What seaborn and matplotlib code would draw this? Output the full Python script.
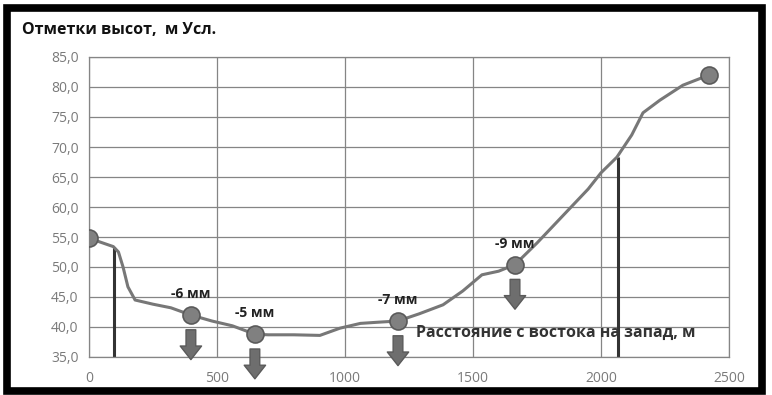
import seaborn as sns
import matplotlib.pyplot as plt
import pandas as pd
from matplotlib.patches import Rectangle

# elevation profile, east to west
dist = [0, 95, 115, 133, 152, 180, 250, 320, 398, 480, 560, 648, 700, 800, 902,
        980, 1060, 1130, 1207, 1290, 1383, 1460, 1535, 1600, 1664, 1750, 1850,
        1950, 2000, 2062, 2120, 2164, 2230, 2320, 2422]
elev = [54.8, 53.4, 52.5, 50.0, 46.7, 44.5, 43.8, 43.2, 42.0, 41.0, 40.2, 38.8,
        38.7, 38.7, 38.6, 39.8, 40.6, 40.8, 41.0, 42.2, 43.7, 46.0, 48.7, 49.3,
        50.4, 54.0, 58.5, 63.0, 65.7, 68.3, 72.0, 75.7, 77.8, 80.3, 82.0]

# measurement points and settlement labels
pt_dist = [0, 398, 648, 1207, 1664, 2422]
pt_elev = [54.8, 42.0, 38.8, 41.0, 50.4, 82.0]
settle_dist = [398, 648, 1207, 1664]
settle_elev = [42.0, 38.8, 41.0, 50.4]
settle_lbl = ["-6 мм", "-5 мм", "-7 мм", "-9 мм"]

# vertical marker lines (x, top elevation)
vline_x = [98, 2065]
vline_top = [53.4, 68.3]

x_ticks = [0, 500, 1000, 1500, 2000, 2500]
y_ticks = [35, 40, 45, 50, 55, 60, 65, 70, 75, 80, 85]

sns.set_style("whitegrid", {"grid.color": "#858585", "axes.edgecolor": "#858585"})
plt.rcParams['font.family'] = ['Open Sans', 'DejaVu Sans']

fig = plt.figure(figsize=(7.72, 3.95), dpi=100)
ax = fig.add_axes([89 / 772, 38 / 395, 640 / 772, 300 / 395])

prof = pd.DataFrame({"dist": dist, "elev": elev})
pts = pd.DataFrame({"dist": pt_dist, "elev": pt_elev})
sns.lineplot(data=prof, x="dist", y="elev", ax=ax, color="#777777", lw=2.2,
             sort=False, zorder=3)
sns.scatterplot(data=pts, x="dist", y="elev", ax=ax, s=150, color="#808080",
                edgecolor="#5a5a5a", linewidth=1.2, zorder=4)

ax.vlines(vline_x, 35, vline_top, color="#333333", lw=2.2, zorder=2)

for x, y, lbl in zip(settle_dist, settle_elev, settle_lbl):
    ax.text(x, y + 3.5, lbl, ha="center", va="center", fontsize=10,
            fontweight="bold", color="#222222")
    ax.annotate("", xy=(x, y - 7.9), xytext=(x, y - 2.0),
                arrowprops=dict(arrowstyle="simple,head_length=0.7,head_width=1.1,tail_width=0.5",
                                fc="#6e6e6e", ec="#5a5a5a", mutation_scale=14),
                annotation_clip=False, zorder=5)

ax.text(1277, 39.0, "Расстояние с востока на запад, м", ha="left", va="center",
        fontsize=11.5, fontweight="bold", color="#333333", zorder=6)

ax.set_xlim(0, 2500)
ax.set_ylim(35, 85)
ax.set_xticks(x_ticks)
ax.set_yticks(y_ticks)
ax.set_yticklabels([f"{v:.1f}".replace(".", ",") for v in y_ticks])
ax.tick_params(colors="#7a7a7a", labelsize=10, length=4, width=0.8)
ax.tick_params(axis="x", pad=6)
ax.set_xlabel("")
ax.set_ylabel("")
ax.grid(True, lw=0.9)
for sp in ax.spines.values():
    sp.set_linewidth(0.9)

fig.text(22 / 772, 1 - 30 / 395, "Отметки высот,  м Усл.", ha="left", va="center",
         fontsize=11.5, fontweight="bold", color="#111111")

fig.patches.append(Rectangle((6.5 / 772, 4 / 395), 755 / 772, 383 / 395,
                             transform=fig.transFigure, fill=False,
                             ec="black", lw=5.5))

fig.savefig("out.png", dpi=100)
plt.close(fig)
